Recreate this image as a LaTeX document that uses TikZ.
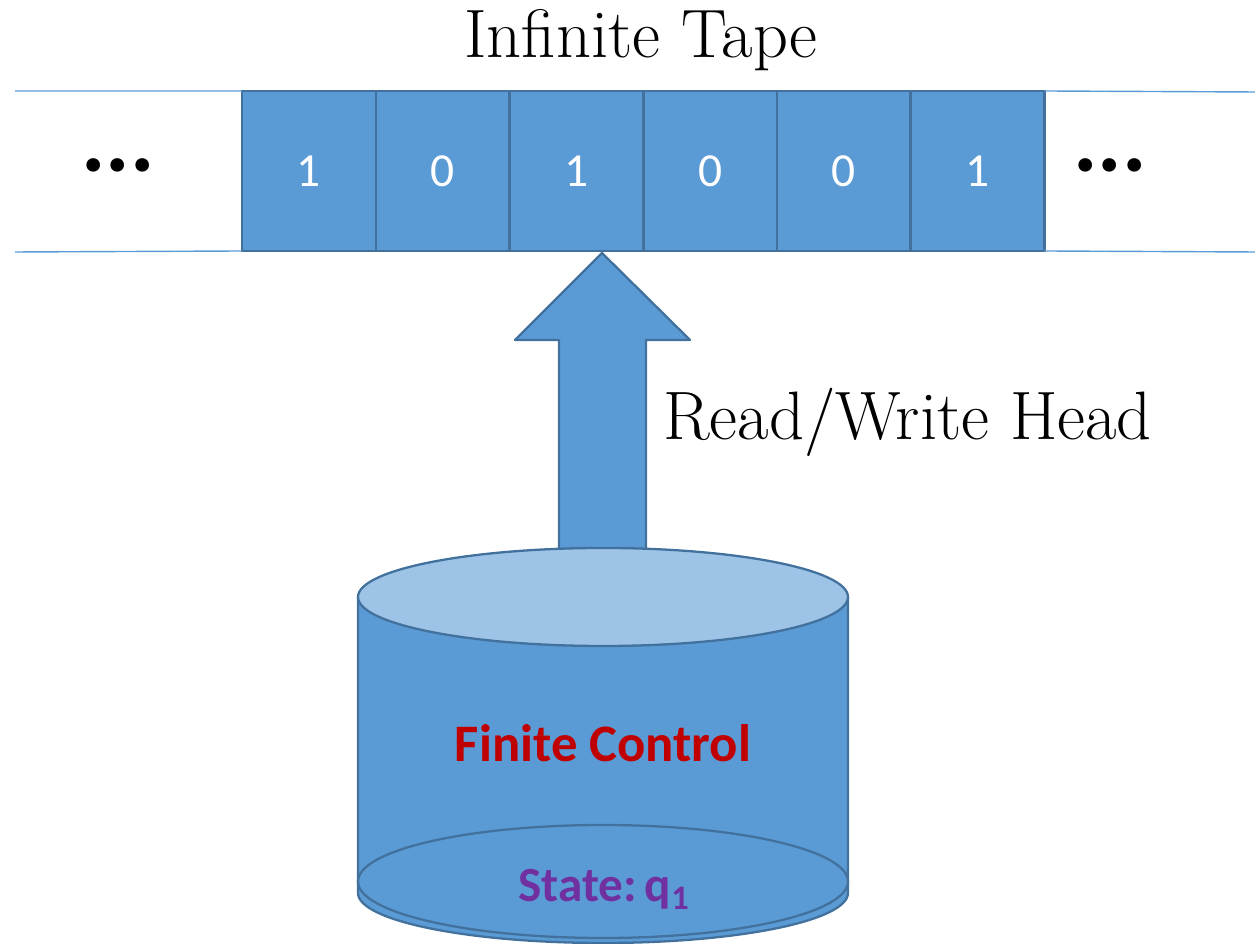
\documentclass[tikz,border=0pt]{standalone}
\usepackage{fontspec}
\newfontfamily\calibri{Carlito}
\usepackage{tikz}
\usetikzlibrary{positioning}
\definecolor{cellblue}{HTML}{5B9BD5}
\definecolor{edgeblue}{HTML}{41719C}
\definecolor{topblue}{HTML}{9DC3E6}
\definecolor{ctrlred}{HTML}{C00000}
\definecolor{statepurple}{HTML}{7030A0}

\begin{document}
\begin{tikzpicture}[
    cell/.style={draw=edgeblue, fill=cellblue, line width=1.5pt, minimum width=2.674cm, minimum height=3.2cm,
        outer sep=0pt, inner sep=0pt, text=white, font=\calibri\fontsize{27}{27}\selectfont},
    tape/.style={draw=cellblue, line width=0.8pt},
    body/.style={draw=edgeblue, fill=cellblue, line width=1.3pt, line join=round},
    dots/.style={anchor=base, inner sep=0pt, font=\calibri\bfseries\fontsize{52}{52}\selectfont},
    label/.style={inner sep=0pt, font=\fontsize{39}{39}\selectfont}]
    \useasboundingbox (0,0) rectangle (25.1,18.88);

    % ταινία
    \node[cell] (c1) at (6.18,15.46) {1};
    \node[cell] (c2) [right=0cm of c1] {0};
    \node[cell] (c3) [right=0cm of c2] {1};
    \node[cell] (c4) [right=0cm of c3] {0};
    \node[cell] (c5) [right=0cm of c4] {0};
    \node[cell] (c6) [right=0cm of c5] {1};

    % άκρα της ταινίας
    \coordinate (tl) at (0.3,17.06);
    \coordinate (bl) at (0.3,13.84);
    \coordinate (tr) at (25.1,17.04);
    \coordinate (br) at (25.1,13.84);
    \draw[tape] (tl) -- (c1.north west);
    \draw[tape] (bl) -- (c1.south west);
    \draw[tape] (c6.north east) -- (tr);
    \draw[tape] (c6.south east) -- (br);
    \node[dots] (ldots) at (2.36,15.44) {...};
    \node[dots] (rdots) at (22.2,15.44) {...};

    \node[label, anchor=base] (title) at (12.82,17.72) {Infinite Tape};

    % κεφαλή
    \coordinate (tip) at (12.04,13.82);
    \draw[body] (tip) -- (13.8,12.08) -- (12.92,12.08) -- (12.92,6.94)
        -- (11.18,6.94) -- (11.18,12.08) -- (10.3,12.08) -- cycle;
    \node[label, anchor=base west] (head) at (13.26,10.08) {Read/Write Head};

    % κύλινδρος
    \draw[body] (7.16,6.94) -- (7.16,1.02)
        arc[start angle=180, end angle=360, x radius=4.9, y radius=1.0]
        -- (16.96,6.94) -- cycle;
    \draw[body] (12.06,1.25) ellipse[x radius=4.9, y radius=1.13];
    \draw[body, fill=topblue] (12.06,6.94) ellipse[x radius=4.9, y radius=0.98];

    \node[anchor=base, text=ctrlred, font=\calibri\bfseries\fontsize{30}{30}\selectfont] (ctrl) at (12.06,3.64) {Finite Control};
    \node[anchor=base, text=statepurple, font=\calibri\bfseries\fontsize{28}{28}\selectfont] (state) at (12.08,0.84) {State:\,q\textsubscript{1}};
\end{tikzpicture}
\end{document}
